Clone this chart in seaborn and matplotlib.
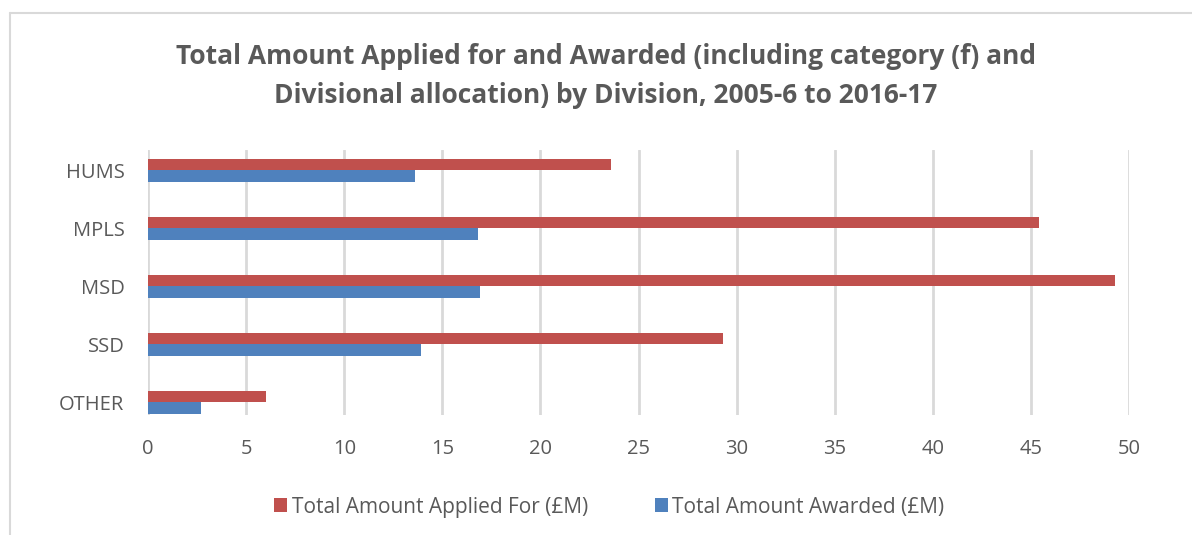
import numpy as np
import pandas as pd
import matplotlib.pyplot as plt
from matplotlib.lines import Line2D
import seaborn as sns

# data (£M)
divisions = ["HUMS", "MPLS", "MSD", "SSD", "OTHER"]
applied = [23.6, 45.4, 49.3, 29.3, 6.0]
awarded = [13.6, 16.8, 16.9, 13.9, 2.7]
series_names = ["Total Amount Applied for (£M)", "Total Amount Awarded (£M)"]
legend_labels = ["Total Amount Applied For (£M)", "Total Amount Awarded (£M)"]
x_ticks = [0, 5, 10, 15, 20, 25, 30, 35, 40, 45, 50]

df = pd.DataFrame({
    "Division": divisions * 2,
    "Series": [series_names[0]] * len(divisions) + [series_names[1]] * len(divisions),
    "Amount": applied + awarded,
})

sns.set_style("white")
plt.rcParams["font.family"] = ["Open Sans", "DejaVu Sans"]
text_col = "#595959"

fig = plt.figure(figsize=(11.92, 5.35), dpi=100)
ax = fig.add_axes([0.1242, 0.2243, 0.823, 0.4953])

sns.barplot(data=df, y="Division", x="Amount", hue="Series",
            hue_order=series_names, order=divisions,
            palette=["#C0504D", "#4F81BD"], saturation=1, width=0.4, orient="h",
            edgecolor=None, linewidth=0, ax=ax)

ax.set_xlim(0, 50)
ax.set_ylim(4.22, -0.35)
ax.set_xticks(x_ticks)
ax.xaxis.grid(True, color="#d9d9d9", linewidth=2)
ax.set_axisbelow(True)
for s in ax.spines.values():
    s.set_visible(False)
ax.set_xlabel("")
ax.set_ylabel("")
ax.tick_params(axis="x", length=0, pad=17, labelsize=14.5, labelcolor=text_col)
ax.tick_params(axis="y", length=0, pad=17, labelsize=14.5, labelcolor=text_col)

handles, _ = ax.get_legend_handles_labels()
ax.legend_.remove()
fig.legend(handles, legend_labels, loc="center", bbox_to_anchor=(0.511, 0.052),
           ncol=2, frameon=False, fontsize=15, labelcolor=text_col,
           handlelength=0.65, handleheight=0.65, handletextpad=0.2, columnspacing=3.2)

fig.text(0.508, 0.858, "Total Amount Applied for and Awarded (including category (f) and\n"
         "Divisional allocation) by Division, 2005-6 to 2016-17",
         ha="center", va="center", fontsize=19, fontweight="bold",
         color=text_col, linespacing=1.55)

# chart border (cropped on right and bottom)
fig.add_artist(Line2D([0.0084, 0.0084], [0.0, 0.9757], color="#d9d9d9", lw=1.5))
fig.add_artist(Line2D([0.0084, 1.0], [0.9757, 0.9757], color="#d9d9d9", lw=1.5))

fig.savefig("out.png", dpi=100)
